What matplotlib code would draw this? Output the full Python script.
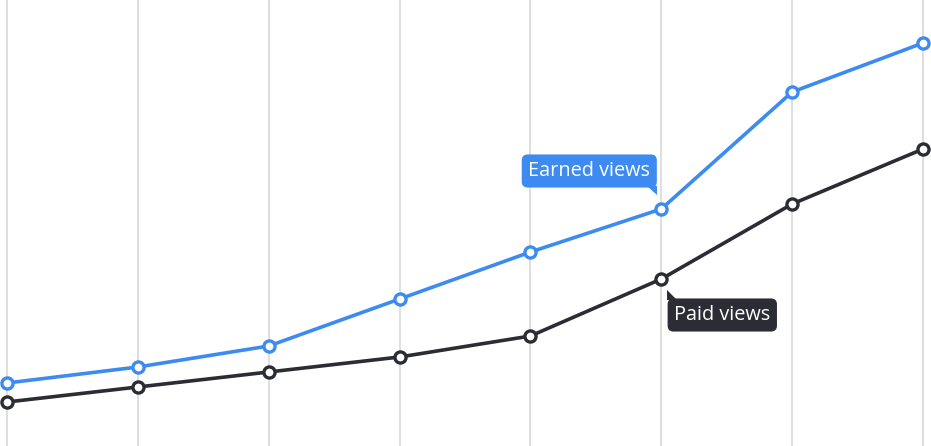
import numpy as np
import matplotlib
matplotlib.use('Agg')
from matplotlib import pyplot as plt
from matplotlib.patches import Polygon
import matplotlib.transforms as mtransforms

# no axis values in the picture, so values are in arbitrary units
periods = list(range(8))
earned = [63, 79, 100, 147, 194, 237, 354, 403]
paid = [44, 59, 74, 89, 110, 167, 242, 297]
label_idx = 5

blue = '#3d8bf0'
dark = '#2b2c34'

plt.rcParams['font.family'] = ['Open Sans', 'DejaVu Sans']

fig = plt.figure(figsize=(9.31, 4.46), dpi=100)
ax = fig.add_axes([0, 0, 1, 1])
ax.set_xlim(-7 / 130.9, 7 + 8 / 130.9)
ax.set_ylim(0, 446)

ax.set_xticks(periods)
ax.set_yticks([])
ax.tick_params(length=0, labelbottom=False)
ax.grid(axis='x', color='#d9d9d9', linewidth=1.2)
for s in ax.spines.values():
    s.set_visible(False)

ax.plot(periods, earned, color=blue, lw=2.6, marker='o', ms=8,
        mfc='white', mec=blue, mew=2.4, zorder=3, clip_on=False)
ax.plot(periods, paid, color=dark, lw=2.6, marker='o', ms=8,
        mfc='white', mec=dark, mew=2.4, zorder=3, clip_on=False)


def callout(y, text, color, off, tri):
    ax.annotate(text, xy=(label_idx, y), xytext=off, textcoords='offset pixels',
                ha='center', va='center', color='white', fontsize=14.3,
                bbox=dict(boxstyle='round,pad=0.33,rounding_size=0.3',
                          fc=color, ec='none'), zorder=5)
    px, py = ax.transData.transform((label_idx, y))
    tr = mtransforms.Affine2D().translate(px, py)
    ax.add_patch(Polygon(tri, closed=True, fc=color, ec='none',
                         transform=tr, zorder=5))


callout(earned[label_idx], 'Earned views', blue, (-72, 38),
        [(-14, 23), (-4, 23), (-4, 14)])
callout(paid[label_idx], 'Paid views', dark, (61, -36),
        [(6, -11), (6, -21), (16, -21)])

fig.savefig('out.png', dpi=100)
